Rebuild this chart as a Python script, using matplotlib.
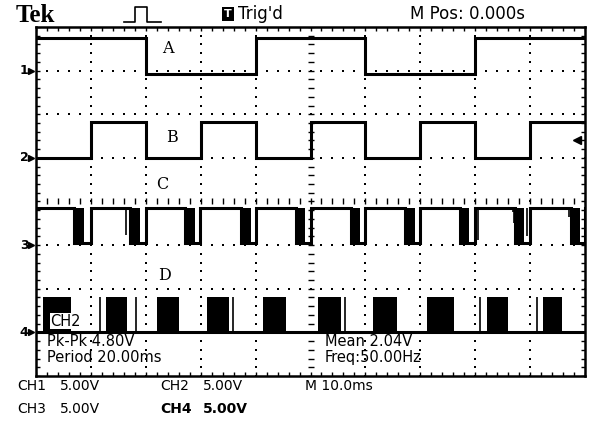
import matplotlib
matplotlib.use("Agg")
import matplotlib.pyplot as plt
from matplotlib.lines import Line2D
import numpy as np

# screen: 10 div x 8 div, 10 ms/div, 5 V/div
VOLTS_PER_DIV = 5.0
ch_ground_div = [3.0, 1.0, -1.0, -3.0]

# CH1 (A): 25 Hz square wave
ch1_edges_ms = [-30.0, -10.0, 10.0, 30.0]
ch1_levels_v = [3.7, -0.4, 3.7, -0.4, 3.7]

# CH2 (B): 50 Hz square wave
ch2_edges_ms = [-40.0, -30.0, -20.0, -10.0, 0.0, 10.0, 20.0, 30.0, 40.0]
ch2_levels_v = [0.0, 4.1, 0.0, 4.1, 0.0, 4.1, 0.0, 4.1, 0.0, 4.1]

# CH3 (C): high with short low dips, noisy burst at the start of each dip
ch3_high_v, ch3_low_v = 4.2, 0.2
ch3_dip_start = [-43.0, -32.8, -22.8, -12.7, -2.7, 7.3, 17.3, 27.3, 37.3, 47.4]
ch3_burst_end = [-41.2, -31.0, -21.0, -10.8, -1.0, 9.0, 19.0, 28.8, 38.8, 49.0]
ch3_dip_end = [-40.0, -30.0, -20.2, -10.0, 0.0, 10.0, 20.0, 30.0, 40.0, 50.0]
ch3_glitch_ms = [-33.6, 28.7, 30.6, 36.8, 37.1, 39.4, 47.0]
ch3_glitch_v = [1.2, 3.0, 0.6, 3.8, 2.5, 1.0, 3.2]

# CH4 (D): low with bursts of fast switching
ch4_high_v, ch4_low_v = 4.0, 0.0
ch4_burst_start = [-48.8, -37.2, -28.0, -18.9, -8.7, 1.3, 11.3, 21.3, 32.1, 42.3]
ch4_burst_end = [-43.7, -33.5, -23.9, -14.8, -4.4, 5.6, 15.8, 26.2, 35.9, 45.9]
ch4_spike_ms = [-38.3, -31.8, -14.2, 6.2, 30.8, 41.3]

trig_level_v = 2.0

# trace labels: name, time (ms), level above ground (V)
trace_labels = [("A", -26.0, 2.55), ("B", -25.3, 2.35), ("C", -27.0, 7.0), ("D", -26.6, 6.5)]

measurements = [("Pk-Pk 4.80V", "Period 20.00ms"), ("Mean 2.04V", "Freq:50.00Hz")]
scale_labels = [("CH1", "5.00V"), ("CH2", "5.00V"), ("CH3", "5.00V"), ("CH4", "5.00V")]
timebase = "M 10.0ms"
mpos = "M Pos: 0.000s"

W, H = 589, 423
FONT = "DejaVu Sans"


def fx(px):
    return px / W


def fy(py):
    return 1 - py / H


def to_div(ch, v):
    return ch_ground_div[ch] + np.asarray(v, dtype=float) / VOLTS_PER_DIV


def square(edges, levels, t0=-50.0, t1=50.0):
    xs = np.concatenate([[t0], np.repeat(edges, 2), [t1]])
    ys = np.repeat(levels, 2)
    return xs, ys


fig = plt.figure(figsize=(W / 100, H / 100), dpi=100)
fig.patch.set_facecolor("white")
ax = fig.add_axes([fx(36), fy(376), fx(549), 349 / H])
ax.set_xlim(-50, 50)
ax.set_ylim(-4, 4)
ax.set_xticks([])
ax.set_yticks([])
for sp in ax.spines.values():
    sp.set_linewidth(1.8)

px_x = 100 / 549  # ms per pixel
px_y = 8 / 349    # div per pixel

# dotted graticule
dot_y = np.arange(-4, 4.01, 0.2)
dot_x = np.arange(-50, 50.01, 2.0)
for gx in range(-40, 50, 10):
    if gx == 0:
        continue
    ax.plot(np.full_like(dot_y, gx), dot_y, "s", ms=1.5, color="black", mew=0, zorder=1)
for gy in range(-3, 4):
    if gy == 0:
        continue
    ax.plot(dot_x, np.full_like(dot_x, gy), "s", ms=1.5, color="black", mew=0, zorder=1)

# centre crosshair ticks
ax.hlines(dot_y, -3 * px_x, 3 * px_x, color="black", lw=1.0, zorder=1)
ax.vlines(dot_x, -3 * px_y, 3 * px_y, color="black", lw=1.0, zorder=1)

# frame ticks
ax.vlines(dot_x, 4 - 4 * px_y, 4, color="black", lw=1.0)
ax.vlines(dot_x, -4, -4 + 4 * px_y, color="black", lw=1.0)
ax.hlines(dot_y, -50, -50 + 4 * px_x, color="black", lw=1.0)
ax.hlines(dot_y, 50 - 4 * px_x, 50, color="black", lw=1.0)

trace = dict(color="black", lw=2.2, solid_joinstyle="miter", zorder=3)

# CH1, CH2
x, y = square(ch1_edges_ms, ch1_levels_v)
ax.plot(x, to_div(0, y), **trace)
x, y = square(ch2_edges_ms, ch2_levels_v)
ax.plot(x, to_div(1, y), **trace)

# CH3
hi3, lo3 = to_div(2, ch3_high_v), to_div(2, ch3_low_v)
xs, ys = [-50.0], [hi3]
for s, b, e in zip(ch3_dip_start, ch3_burst_end, ch3_dip_end):
    xs += [s, s, b, b, e, e]
    ys += [hi3, lo3, lo3, lo3, lo3, hi3]
    ax.fill_between([s, b], lo3, hi3, color="black", lw=0, zorder=3)
xs.append(50.0)
ys.append(hi3)
ax.plot(xs, ys, **trace)
ax.vlines(ch3_glitch_ms, to_div(2, ch3_glitch_v), hi3, color="black", lw=1.2, zorder=3)

# CH4
hi4, lo4 = to_div(3, ch4_high_v), to_div(3, ch4_low_v)
ax.plot([-50, 50], [lo4, lo4], **trace)
for s, e in zip(ch4_burst_start, ch4_burst_end):
    ax.fill_between([s, e], lo4, hi4, color="black", lw=0, zorder=3)
ax.vlines(ch4_spike_ms, lo4, hi4, color="black", lw=1.2, zorder=3)

# channel labels on the traces
for ch, (name, t, v) in enumerate(trace_labels):
    ax.text(t, to_div(ch, v), name, fontsize=11.5, family="DejaVu Serif",
            ha="center", va="center")

# ground markers on the left edge, trigger level on the right
ymix = ax.get_yaxis_transform()
for i, g in enumerate(ch_ground_div):
    ax.text(-0.014, g, f"{i + 1}", transform=ymix, fontsize=9, ha="right", va="center",
            family=FONT, fontweight="bold")
    ax.plot(-0.01, g, marker=">", ms=4, color="black", transform=ymix, clip_on=False)
ax.plot(0.985, to_div(1, trig_level_v), marker="<", ms=6, color="black", transform=ymix,
        clip_on=False, zorder=5)

# measurement readout
fig.text(fx(50), fy(321), "CH2", fontsize=10.5, family=FONT, va="center", zorder=5,
         bbox=dict(fc="white", ec="none", pad=0.3))
(pk, per), (mean, freq) = measurements
fig.text(fx(47), fy(341), pk, fontsize=10.5, family=FONT, va="center")
fig.text(fx(47), fy(357), per, fontsize=10.5, family=FONT, va="center")
fig.text(fx(325), fy(341), mean, fontsize=10.5, family=FONT, va="center")
fig.text(fx(325), fy(357), freq, fontsize=10.5, family=FONT, va="center")

# header
fig.text(fx(16), fy(15), "Tek", fontsize=18, family="Liberation Serif", fontweight="bold",
         va="center")
fig.add_artist(Line2D([fx(124), fx(135), fx(135), fx(147), fx(147), fx(161)],
                      [fy(22), fy(22), fy(7), fy(7), fy(22), fy(22)],
                      color="black", lw=1.2, transform=fig.transFigure))
fig.text(fx(228), fy(14), "T", fontsize=8, family=FONT, fontweight="bold", color="white",
         ha="center", va="center", bbox=dict(fc="black", ec="none", pad=1.5))
fig.text(fx(238), fy(14), "Trig'd", fontsize=12, family=FONT, va="center")
fig.text(fx(410), fy(14), mpos, fontsize=12, family=FONT, va="center")

# footer
rows = [fy(386), fy(386), fy(409), fy(409)]
cols = [fx(17), fx(160), fx(17), fx(160)]
for (ch, v), r, c in zip(scale_labels, rows, cols):
    bold = "bold" if ch == "CH4" else "normal"
    fig.text(c, r, ch, fontsize=10, family=FONT, va="center", fontweight=bold)
    fig.text(c + fx(43), r, v, fontsize=10, family=FONT, va="center", fontweight=bold)
fig.text(fx(305), fy(386), timebase, fontsize=10, family=FONT, va="center")

fig.savefig("out.png", dpi=100, facecolor="white")
